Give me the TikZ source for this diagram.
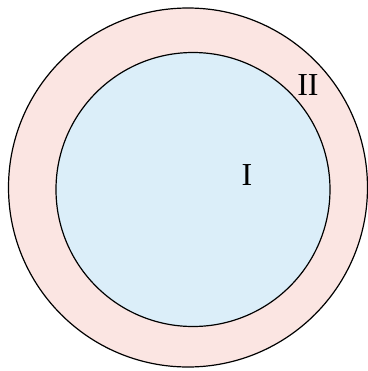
\documentclass[tikz,border=0pt]{standalone}
\usepackage{fontspec}
\setmainfont{Liberation Serif}
\usepackage{xcolor}
\definecolor{ringpink}{RGB}{251,229,226}
\definecolor{corelblue}{RGB}{219,238,249}
\tikzset{
    zone/.style={draw=black, line width=0.6pt},
    zonelabel/.style={font=\fontsize{16}{18}\selectfont, inner sep=0pt}
}
\begin{document}
\begin{tikzpicture}[x=0.5pt, y=-0.5pt]
    \useasboundingbox (0,0) rectangle (368,371);

    \coordinate (OuterC) at (188,187.5);
    \coordinate (InnerC) at (193,189.5);

    % Region II
    \draw[zone, fill=ringpink] (OuterC) circle [radius=179.5];

    % Region I
    \draw[zone, fill=corelblue] (InnerC) circle [radius=137];

    \node[zonelabel] (LabelI) at (247,175) {I};
    \node[zonelabel] (LabelII) at (308,85) {II};

\end{tikzpicture}
\end{document}
